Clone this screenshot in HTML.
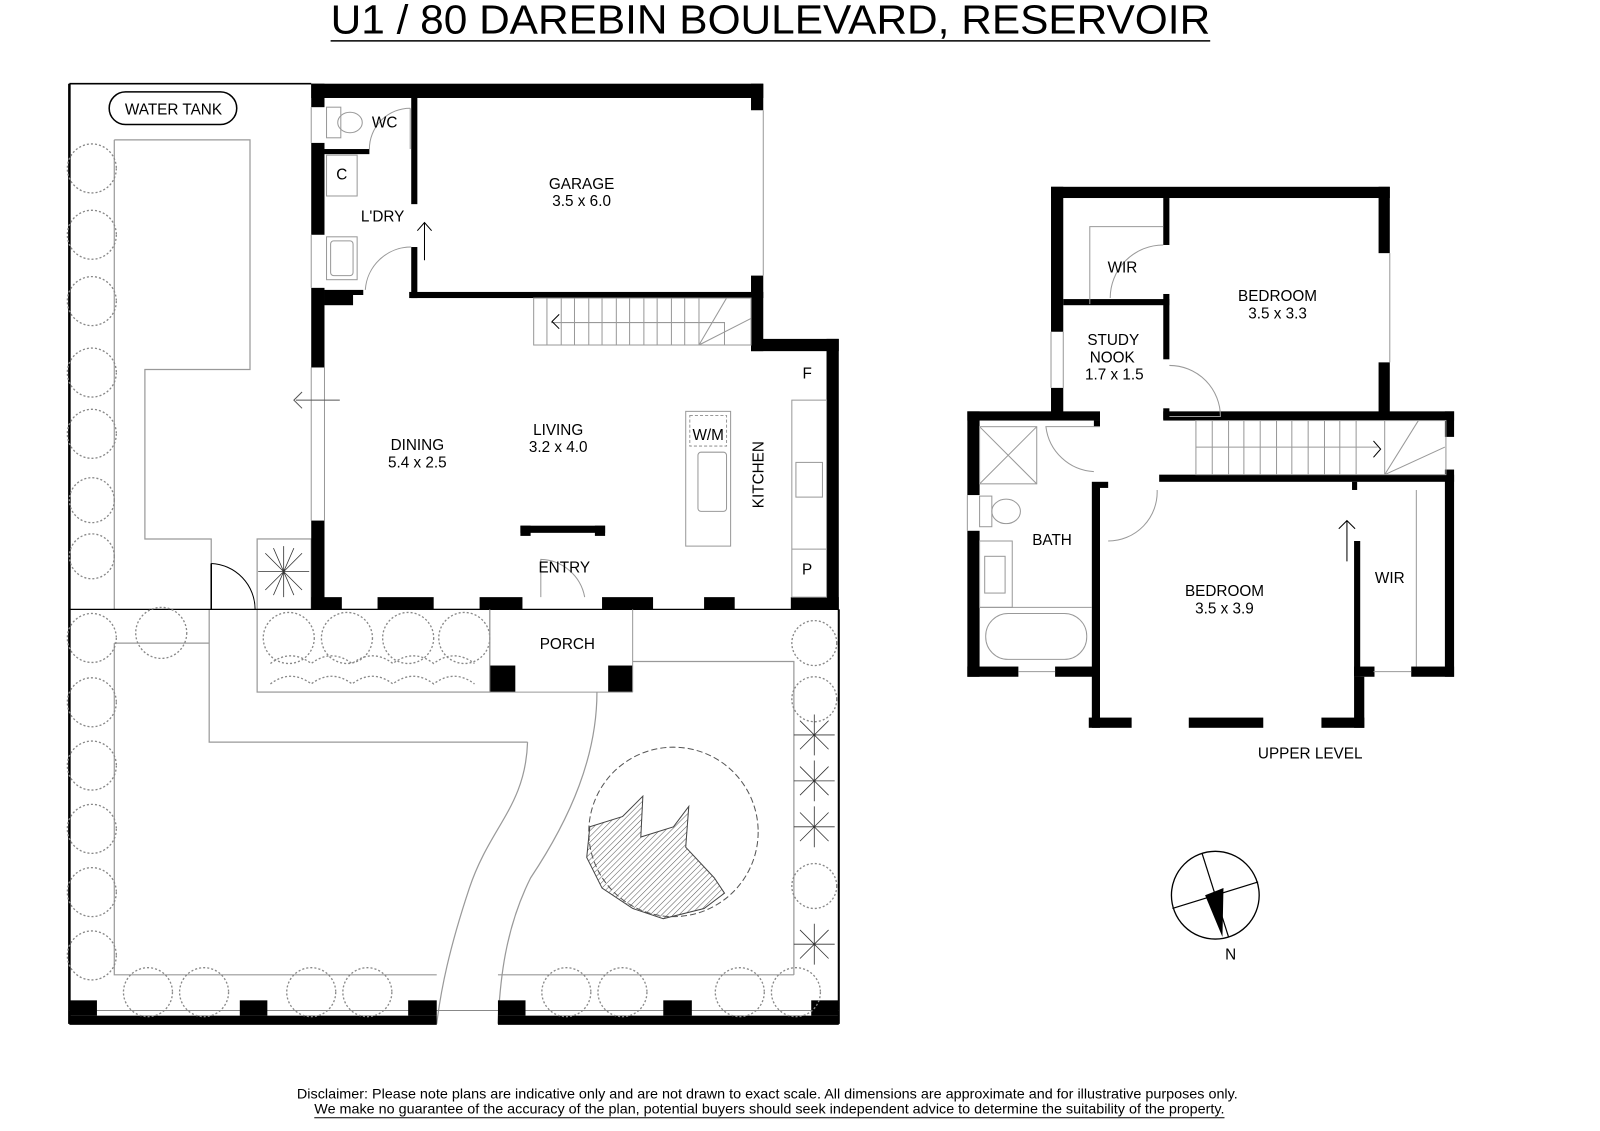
<!DOCTYPE html>
<html><head><meta charset="utf-8"><style>
html,body{margin:0;padding:0;background:#fff;}
svg{display:block;}
text{font-family:"Liberation Sans",sans-serif;fill:#000;}
</style></head><body>
<svg width="1600" height="1131" viewBox="0 0 1568 1108" preserveAspectRatio="none" xmlns="http://www.w3.org/2000/svg">
<defs>
<pattern id="hatch" width="4" height="4" patternUnits="userSpaceOnUse" patternTransform="rotate(45)">
<line x1="0" y1="0" x2="0" y2="4" stroke="#555" stroke-width="1"/>
</pattern>
</defs>
<text x="755" y="33" font-size="40" text-anchor="middle" textLength="862" lengthAdjust="spacingAndGlyphs">U1 / 80 DAREBIN BOULEVARD, RESERVOIR</text>
<line x1="324" y1="40" x2="1186" y2="40" stroke="#000" stroke-width="1.5"/>

<g fill="none" stroke="#999" stroke-width="1.2">
<path d="M112 137 H245 V362 H142 V528 H207 V597"/>
<line x1="112" y1="137" x2="112" y2="597"/>
<rect x="252" y="597" width="228" height="81"/>
<path d="M112 630 V955 H428"/>
<line x1="488" y1="955" x2="778" y2="955"/>
<path d="M112 630 H205"/>
<path d="M205 597 V727 H517"/>
<path d="M517 727 C515 790 480 810 460 870 C440 930 432 970 428 1003"/>
<path d="M585 678 C585 740 560 800 520 860 C495 910 490 960 488 1003"/>
<path d="M620 648 H778 V955"/>
<rect x="252" y="528" width="53" height="69"/>
</g>
<g stroke="#000" fill="none">
<line x1="68" y1="82" x2="68" y2="1003" stroke-width="2.5"/>
<line x1="68" y1="82" x2="305" y2="82" stroke-width="1.5"/>
<line x1="68" y1="597" x2="822" y2="597" stroke-width="1.2"/>
<line x1="822" y1="597" x2="822" y2="1003" stroke-width="2"/>
<line x1="68" y1="990" x2="822" y2="990" stroke-width="1" stroke="#888"/>
</g>
<g fill="#000">
<rect x="68" y="995" width="360" height="9"/>
<rect x="488" y="995" width="334" height="9"/>
<rect x="68" y="980" width="27" height="15"/><rect x="235" y="980" width="27" height="15"/>
<rect x="400" y="980" width="28" height="15"/><rect x="488" y="980" width="27" height="15"/>
<rect x="650" y="980" width="28" height="15"/><rect x="795" y="980" width="27" height="15"/>
</g>
<path d="M207 552 A45 45 0 0 1 250 597" fill="none" stroke="#000" stroke-width="1"/>
<line x1="207" y1="552" x2="207" y2="597" stroke="#000" stroke-width="1.5"/>

<g fill="none" stroke="#888" stroke-width="1.3" stroke-dasharray="2 2">
<circle cx="90" cy="165" r="24"/><circle cx="90" cy="230" r="24"/><circle cx="90" cy="295" r="24"/>
<circle cx="90" cy="365" r="24"/><circle cx="90" cy="425" r="24"/><circle cx="90" cy="490" r="22"/><circle cx="90" cy="545" r="22"/>
<circle cx="158" cy="620" r="25"/>
<circle cx="90" cy="625" r="24"/><circle cx="90" cy="688" r="24"/><circle cx="90" cy="750" r="24"/>
<circle cx="90" cy="812" r="24"/><circle cx="90" cy="874" r="24"/><circle cx="90" cy="936" r="24"/>
<circle cx="145" cy="972" r="24"/><circle cx="200" cy="972" r="24"/><circle cx="305" cy="972" r="24"/><circle cx="360" cy="972" r="24"/>
<circle cx="555" cy="972" r="24"/><circle cx="610" cy="972" r="24"/><circle cx="725" cy="972" r="24"/><circle cx="780" cy="972" r="24"/>
<circle cx="283" cy="625" r="25"/><circle cx="340" cy="625" r="25"/><circle cx="400" cy="625" r="25"/><circle cx="455" cy="625" r="25"/>
<circle cx="798" cy="630" r="22"/><circle cx="798" cy="685" r="22"/><circle cx="798" cy="868" r="22"/>
<path d="M265 650 q20 -15 40 0 q20 -15 40 0 q20 -15 40 0 q20 -15 40 0 q20 -15 40 0 M265 670 q20 -15 40 0 q20 -15 40 0 q20 -15 40 0 q20 -15 40 0 q20 -15 40 0"/>
</g>
<g stroke="#333" stroke-width="0.8">
<path d="M798 700 l0 40 M778 720 l40 0 M784 706 l28 28 M812 706 l-28 28"/>
<path d="M798 745 l0 40 M778 765 l40 0 M784 751 l28 28 M812 751 l-28 28"/>
<path d="M798 790 l0 40 M778 810 l40 0 M784 796 l28 28 M812 796 l-28 28"/>
<path d="M798 905 l0 40 M778 925 l40 0 M784 911 l28 28 M812 911 l-28 28"/>
<path d="M278 535 l0 50 M253 560 l50 0 M260 542 l36 36 M296 542 l-36 36 M268 537 l20 46 M288 537 l-20 46"/>
</g>
<circle cx="660" cy="815" r="83" fill="none" stroke="#555" stroke-width="1" stroke-dasharray="6 3"/>
<path d="M610 800 L630 780 L628 820 L660 810 L675 790 L672 830 L700 860 L710 875 L690 890 L650 900 L620 890 L590 870 L575 840 L578 810 Z" fill="url(#hatch)" stroke="#444" stroke-width="1"/>

<g fill="#000">
<rect x="305" y="82" width="443" height="14"/>
<rect x="736" y="82" width="12" height="26"/>
<rect x="736" y="270" width="12" height="74"/>
<rect x="401" y="286" width="347" height="6"/>
<rect x="403" y="96" width="6" height="104"/>
<rect x="403" y="242" width="6" height="50"/>
<rect x="305" y="82" width="13" height="23"/>
<rect x="305" y="140" width="13" height="90"/>
<rect x="305" y="282" width="13" height="78"/>
<rect x="305" y="510" width="13" height="87"/>
<rect x="318" y="146" width="44" height="5"/>
<rect x="318" y="284" width="38" height="5"/>
<rect x="318" y="289" width="28" height="10"/>
<rect x="736" y="332" width="86" height="12"/>
<rect x="810" y="332" width="12" height="265"/>
<rect x="305" y="585" width="30" height="12"/>
<rect x="370" y="585" width="55" height="12"/>
<rect x="470" y="585" width="42" height="12"/>
<rect x="590" y="585" width="50" height="12"/>
<rect x="690" y="585" width="30" height="12"/>
<rect x="775" y="585" width="47" height="12"/>
<rect x="510" y="515" width="83" height="7"/>
<rect x="510" y="515" width="10" height="10"/><rect x="583" y="515" width="10" height="10"/>
<rect x="480" y="652" width="25" height="26"/>
<rect x="596" y="652" width="24" height="26"/>
</g>
<g fill="none" stroke="#999" stroke-width="1">
<line x1="480" y1="597" x2="480" y2="678"/><line x1="620" y1="597" x2="620" y2="678"/>
<line x1="480" y1="678" x2="620" y2="678"/>
<line x1="305" y1="360" x2="305" y2="510"/><line x1="318" y1="360" x2="318" y2="510"/>
<line x1="305" y1="105" x2="305" y2="140"/><line x1="305" y1="230" x2="305" y2="282"/>
<line x1="748" y1="108" x2="748" y2="270"/>
<rect x="523" y="292" width="213" height="46"/>
<path d="M536 292 V338 M550 292 V338 M563 292 V338 M577 292 V338 M590 292 V338 M604 292 V338 M617 292 V338 M631 292 V338 M644 292 V338 M658 292 V338 M671 292 V338 M685 292 V338"/>
<path d="M540 316 H710 V338 M685 338 L712 292 M685 338 L736 312"/>
<rect x="776" y="392" width="34" height="193"/><line x1="776" y1="538" x2="810" y2="538"/>
<rect x="672" y="403" width="44" height="132"/>
<rect x="676" y="407" width="36" height="30" stroke-dasharray="3 2"/>
<rect x="684" y="443" width="28" height="58" rx="3"/>
<rect x="780" y="453" width="26" height="34"/>
<rect x="320" y="105" width="14" height="30"/><ellipse cx="343" cy="120" rx="12" ry="10"/>
<rect x="320" y="152" width="30" height="40"/>
<rect x="320" y="232" width="30" height="42"/><rect x="324" y="236" width="22" height="34" rx="3"/>
<path d="M362 146 A40 40 0 0 1 402 106"/><line x1="402" y1="106" x2="402" y2="146"/>
<path d="M358 284 A45 45 0 0 1 403 242"/>
<path d="M530 585 V548 A45 45 0 0 1 573 585"/>
</g>
<g fill="none" stroke="#000" stroke-width="1">
<path d="M416 255 V218 M409 226 L416 218 L423 226"/>
<path d="M290 392 H333 M296 384 L288 392 L296 400" stroke="#555"/>
<path d="M548 308 L541 315 L548 322"/>
</g>
<rect x="107" y="90" width="125" height="32" rx="16" fill="none" stroke="#000" stroke-width="1.5"/>
<text x="170" y="112" font-size="15" text-anchor="middle">WATER TANK</text>
<g font-size="15" text-anchor="middle">
<text x="377" y="125">WC</text>
<text x="335" y="176">C</text>
<text x="375" y="217">L'DRY</text>
<text x="570" y="185">GARAGE</text><text x="570" y="202">3.5 x 6.0</text>
<text x="409" y="441">DINING</text><text x="409" y="458">5.4 x 2.5</text>
<text x="547" y="426">LIVING</text><text x="547" y="443">3.2 x 4.0</text>
<text x="694" y="431">W/M</text>
<text x="791" y="371">F</text><text x="791" y="563">P</text>
<text x="553" y="561">ENTRY</text>
<text x="556" y="636">PORCH</text>
<text transform="translate(748,465) rotate(-90)" text-anchor="middle">KITCHEN</text>
</g>

<g fill="#000">
<rect x="1030" y="183" width="332" height="11"/>
<rect x="1030" y="183" width="12" height="142"/>
<rect x="1030" y="380" width="12" height="30"/>
<rect x="1140" y="194" width="6" height="46"/>
<rect x="1140" y="288" width="6" height="64"/>
<rect x="1140" y="400" width="6" height="11"/>
<rect x="1042" y="293" width="104" height="6"/>
<rect x="1351" y="183" width="11" height="65"/>
<rect x="1351" y="355" width="11" height="55"/>
<rect x="1140" y="403" width="285" height="9"/>
<rect x="948" y="403" width="130" height="9"/>
<rect x="1072" y="412" width="6" height="6"/>
<rect x="948" y="403" width="12" height="82"/>
<rect x="948" y="520" width="12" height="143"/>
<rect x="1070" y="472" width="8" height="241"/>
<rect x="1078" y="472" width="8" height="6"/>
<rect x="1136" y="465" width="289" height="7"/>
<rect x="1416" y="403" width="9" height="25"/>
<rect x="1416" y="460" width="9" height="203"/>
<rect x="1325" y="472" width="5" height="8"/>
<rect x="1327" y="530" width="6" height="133"/>
<rect x="948" y="653" width="50" height="10"/>
<rect x="1034" y="653" width="44" height="10"/>
<rect x="1327" y="653" width="20" height="10"/>
<rect x="1383" y="653" width="42" height="10"/>
<rect x="1327" y="663" width="10" height="50"/>
<rect x="1067" y="703" width="42" height="10"/>
<rect x="1165" y="703" width="73" height="10"/>
<rect x="1295" y="703" width="42" height="10"/>
</g>
<g fill="none" stroke="#999" stroke-width="1">
<line x1="1030" y1="325" x2="1030" y2="380"/><line x1="1042" y1="325" x2="1042" y2="380"/>
<line x1="1362" y1="248" x2="1362" y2="355"/>
<line x1="948" y1="485" x2="948" y2="520"/>
<path d="M1068 298 V222 H1140"/>
<path d="M1088 292 A52 52 0 0 1 1140 240"/>
<path d="M1146 408 H1196 A50 50 0 0 0 1146 358"/>
<path d="M1078 418 H1025 A50 50 0 0 0 1072 462"/>
<path d="M1086 530 A48 48 0 0 0 1134 480"/>
<rect x="960" y="418" width="56" height="56"/><path d="M960 418 L1016 474 M1016 418 L960 474"/>
<rect x="960" y="486" width="12" height="30"/><ellipse cx="986" cy="501" rx="14" ry="12"/>
<rect x="960" y="530" width="32" height="65"/><rect x="965" y="545" width="20" height="36"/>
<line x1="960" y1="595" x2="1070" y2="595"/>
<rect x="966" y="601" width="99" height="45" rx="22"/>
<rect x="1172" y="412" width="245" height="53"/>
<path d="M1188 412 V465 M1204 412 V465 M1219 412 V465 M1235 412 V465 M1251 412 V465 M1266 412 V465 M1282 412 V465 M1298 412 V465 M1313 412 V465 M1329 412 V465 M1357 412 V465"/>
<path d="M1172 438 H1350 M1357 465 L1390 412 M1357 465 L1416 438"/>
<line x1="1388" y1="480" x2="1388" y2="653"/>
<line x1="1346" y1="658" x2="1383" y2="658"/>
<line x1="998" y1="658" x2="1034" y2="658"/>
</g>
<g fill="none" stroke="#000" stroke-width="1">
<path d="M1346 432 L1353 440 L1346 448"/>
<path d="M1320 550 V510 M1312 518 L1320 510 L1328 518"/>
</g>
<g font-size="15" text-anchor="middle">
<text x="1100" y="267">WIR</text>
<text x="1252" y="295">BEDROOM</text><text x="1252" y="312">3.5 x 3.3</text>
<text x="1091" y="338">STUDY</text><text x="1090" y="355">NOOK</text><text x="1092" y="372">1.7 x 1.5</text>
<text x="1031" y="534">BATH</text>
<text x="1200" y="584">BEDROOM</text><text x="1200" y="601">3.5 x 3.9</text>
<text x="1362" y="571">WIR</text>
<text x="1284" y="743">UPPER LEVEL</text>
</g>

<circle cx="1191" cy="877" r="43" fill="none" stroke="#000" stroke-width="1.3"/>
<line x1="1178" y1="836" x2="1204" y2="918" stroke="#000" stroke-width="1.2"/>
<line x1="1149" y1="890" x2="1233" y2="864" stroke="#000" stroke-width="1.2"/>
<path d="M1181 877 L1199 870 L1198 918 Z" fill="#000"/>
<text x="1206" y="940" font-size="15" text-anchor="middle">N</text>

<g font-size="13.5" text-anchor="middle">
<text x="752" y="1076" textLength="922" lengthAdjust="spacingAndGlyphs">Disclaimer: Please note plans are indicative only and are not drawn to exact scale. All dimensions are approximate and for illustrative purposes only.</text>
<text x="754" y="1091" textLength="892" lengthAdjust="spacingAndGlyphs">We make no guarantee of the accuracy of the plan, potential buyers should seek independent advice to determine the suitability of the property.</text>
</g>
<line x1="308" y1="1095" x2="1200" y2="1095" stroke="#000" stroke-width="1"/>
</svg>
</body></html>
